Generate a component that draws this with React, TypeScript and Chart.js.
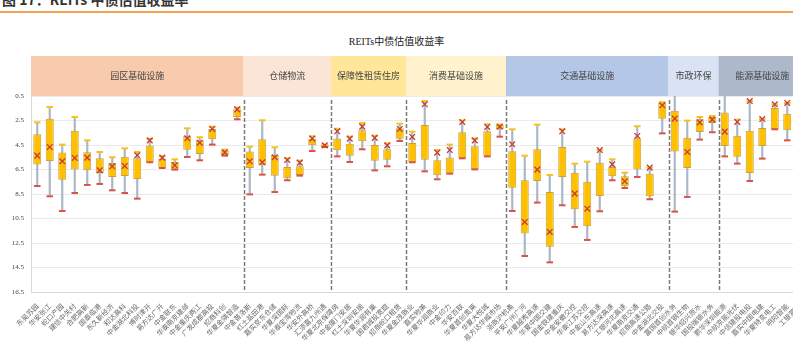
import React, { useEffect, useRef } from "react";
import { Chart, registerables } from "chart.js";

Chart.register(...registerables);

const categories = [
  "东吴苏园", "华安张江", "蛇口产园", "建信中关村", "合肥高新", "国泰临港", "东久新经济", "和达高科", "中金湖北科投",
  "博时津开", "易方达广开", "中金联东", "华泰南京建邺", "中金重庆两江", "广发成都高投", "招商科创", "华夏金隅智造",
  "中金普洛斯", "红土盐田港", "嘉实京东仓储", "华夏深国际", "华泰宝湾物流", "华安外高桥", "汇添富九州通",
  "华夏北京保障房", "中金厦门安居", "红土深圳安居", "华夏华润有巢", "国君城投宽庭", "招商蛇口租赁",
  "华夏金茂商业", "嘉实物美", "华夏华润商业", "中金印力", "华安百联", "华夏首创奥莱", "华夏大悦城", "易方达华威市场",
  "浙商沪杭甬", "平安广州广河", "华夏越秀高速", "华夏中国交建", "国金铁建重庆", "中金安徽交控", "华泰江苏交控",
  "中金山东高速", "易方达深高速", "工银河北高速", "华夏南京交通", "招商高速公路", "中金湖北交投",
  "富国首创水务", "中航首钢生物", "银华绍兴原水", "国投瑞银水务",
  "鹏华深圳能源", "中航京能光伏", "中信建投电投", "嘉实中国电建", "华夏特变电工", "明阳智能", "工银蒙能"
];

const groupNames = ["园区基础设施", "仓储物流", "保障性租赁住房", "消费基础设施", "交通基础设施", "市政环保", "能源基础设施"];
const groupSizes = [17, 7, 6, 8, 13, 4, 7];
const groupColors = ["#f8cbad", "#fbe5d6", "#ffe699", "#fff2cc", "#b4c7e7", "#dae3f3", "#adb9ca"];

// upper whisker end (smallest yield, yellow cap)
const whiskerLow = [
  2.65, 1.40, 4.47, 2.21, 4.12, 5.07, 5.50, 4.77, 5.07, 4.00, 5.43, 5.67, 3.14, 3.87, 3.00, 4.88, 1.45,
  4.63, 2.48, 4.69, 5.59, 5.78, 3.79, 4.47,
  3.17, 3.82, 2.70, 3.74, 4.37, 2.76,
  3.41, 0.91, 4.91, 4.47, 2.51, 3.98, 2.81, 2.84,
  3.22, 5.37, 2.84, 6.95, 3.22, 6.02, 5.86, 4.91, 5.67, 6.76, 2.97, 6.35, 1.00,
  0.30, 2.51, 2.21, 2.13,
  0.30, 2.43, 0.91, 2.38, 1.18, 1.07, 1.50
];
// box edge, smaller yield
const boxLow = [
  3.63, 2.35, 5.12, 3.33, 5.10, 5.59, 5.97, 5.45, 5.59, 4.55, 5.64, 5.89, 3.74, 4.12, 3.19, 4.94, 1.59,
  5.04, 4.04, 5.29, 6.30, 6.24, 3.98, 4.47,
  3.96, 4.39, 3.30, 4.50, 4.85, 3.14,
  4.34, 2.87, 5.75, 5.53, 3.46, 4.61, 3.38, 2.84,
  5.02, 7.38, 4.85, 8.33, 4.66, 6.76, 7.49, 5.94, 6.30, 7.06, 3.96, 6.84, 1.04,
  1.70, 3.90, 2.40, 2.21,
  1.84, 3.74, 3.33, 3.11, 1.48, 1.94, 2.30
];
// box edge, larger yield
const boxHigh = [
  6.10, 5.80, 7.33, 6.51, 6.57, 6.78, 7.11, 7.03, 7.27, 5.91, 6.35, 6.51, 4.88, 5.23, 4.04, 5.34, 2.21,
  6.38, 6.16, 7.00, 7.22, 6.95, 4.53, 4.66,
  4.93, 5.37, 4.20, 5.78, 5.70, 3.98,
  5.91, 5.70, 6.97, 6.84, 5.59, 6.49, 5.43, 3.22,
  7.98, 11.73, 7.44, 12.80, 7.11, 9.75, 11.14, 8.66, 7.06, 7.87, 6.49, 8.69, 2.35,
  5.04, 6.38, 3.44, 2.70,
  4.58, 5.45, 6.78, 4.58, 3.19, 3.30, 3.60
];
// lower whisker end (largest yield, red cap)
const whiskerHigh = [
  7.85, 8.69, 9.89, 8.42, 7.76, 7.68, 8.20, 8.42, 8.88, 5.91, 6.38, 6.51, 5.48, 5.75, 4.47, 5.37, 2.40,
  8.53, 6.92, 8.34, 7.38, 7.00, 4.99, 4.66,
  5.43, 5.89, 4.85, 6.57, 6.24, 4.17,
  5.91, 6.65, 7.30, 6.84, 5.59, 6.49, 5.43, 3.82,
  9.89, 13.56, 9.20, 14.08, 9.42, 11.19, 12.25, 9.91, 7.38, 8.01, 7.11, 8.93, 3.55,
  9.94, 8.74, 4.06, 3.46,
  5.43, 6.02, 7.44, 5.61, 3.22, 4.12, 4.40
];
const meanVal = [
  5.37, 4.66, 5.83, 5.56, 5.53, 6.57, 6.24, 6.21, 5.34, 4.12, 5.53, 6.16, 3.95, 4.31, 3.19, 5.10, 1.59,
  5.83, 5.91, 5.50, 5.72, 5.94, 3.98, 4.53,
  3.38, 3.98, 3.00, 3.92, 4.53, 3.19,
  3.84, 1.18, 5.12, 4.91, 2.62, 4.12, 3.03, 3.00,
  4.44, 10.78, 6.51, 11.60, 3.38, 8.47, 9.70, 4.91, 6.08, 7.46, 3.76, 6.35, 1.26,
  2.35, 5.07, 2.65, 2.43,
  3.41, 2.62, 0.91, 2.38, 1.18, 1.07, 2.00
];

const yMin = 0.5;
const yMax = 16.5;
const yStep = 2;

const groupPlugin = {
  id: "groupBands",
  beforeDatasetsDraw(chart: any) {
    const { ctx, chartArea } = chart;
    const x = chart.scales.x;
    const half = (x.getPixelForValue(1) - x.getPixelForValue(0)) / 2;
    let start = 0;
    ctx.save();
    groupSizes.forEach((n: number, g: number) => {
      const x0 = x.getPixelForValue(start) - half;
      const x1 = x.getPixelForValue(start + n - 1) + half;
      ctx.fillStyle = groupColors[g];
      ctx.fillRect(x0, chartArea.top - 40, x1 - x0, 40);
      ctx.fillStyle = "#444";
      ctx.font = "9px 'Noto Sans CJK SC'";
      ctx.textAlign = "center";
      ctx.textBaseline = "middle";
      ctx.fillText(groupNames[g], (x0 + x1) / 2, chartArea.top - 20);
      if (g > 0) {
        ctx.beginPath();
        ctx.setLineDash([4, 2]);
        ctx.strokeStyle = "#7a7a7a";
        ctx.lineWidth = 1.5;
        ctx.moveTo(Math.round(x0) + 0.5, chartArea.top + 4);
        ctx.lineTo(Math.round(x0) + 0.5, chartArea.bottom);
        ctx.stroke();
        ctx.setLineDash([]);
      }
      start += n;
    });
    ctx.restore();
  },
};

export default function App() {
  const ref = useRef<HTMLCanvasElement | null>(null);

  useEffect(() => {
    if (!ref.current) return;
    const chart = new Chart(ref.current, {
      type: "bar",
      data: {
        labels: categories,
        datasets: [
          {
            type: "line",
            label: "mean",
            data: meanVal,
            showLine: false,
            pointStyle: "crossRot",
            pointRadius: 4,
            pointBorderWidth: 1.3,
            borderColor: "#c63a3a",
            backgroundColor: "#c63a3a",
            order: 0,
          } as any,
          {
            type: "line",
            label: "capLow",
            data: whiskerLow,
            showLine: false,
            pointStyle: "line",
            pointRadius: 3.3,
            pointBorderWidth: 2,
            borderColor: "#f7c31a",
            backgroundColor: "#f7c31a",
            order: 1,
          } as any,
          {
            type: "line",
            label: "capHigh",
            data: whiskerHigh,
            showLine: false,
            pointStyle: "line",
            pointRadius: 3.3,
            pointBorderWidth: 2,
            borderColor: "#d9534a",
            backgroundColor: "#d9534a",
            order: 1,
          } as any,
          {
            type: "bar",
            label: "box",
            data: boxLow.map((v, i) => [v, boxHigh[i]]),
            backgroundColor: "#ffc000",
            borderColor: "#c9a03a",
            borderWidth: 1,
            borderSkipped: false,
            grouped: false,
            categoryPercentage: 1,
            barPercentage: 0.64,
            order: 2,
          } as any,
          {
            type: "bar",
            label: "whisker",
            data: whiskerLow.map((v, i) => [v, whiskerHigh[i]]),
            backgroundColor: "#a9b7c6",
            borderWidth: 0,
            grouped: false,
            barThickness: 1.5,
            order: 3,
          } as any,
        ],
      },
      options: {
        animation: false,
        responsive: false,
        devicePixelRatio: 1,
        layout: { padding: { top: 96, left: 0, right: 4, bottom: 0 } },
        plugins: {
          legend: { display: false },
          tooltip: { enabled: false },
          title: { display: false },
        },
        scales: {
          x: {
            type: "category",
            offset: true,
            grid: { display: false },
            border: { display: true, color: "#d9d9d9" },
            ticks: {
              autoSkip: false,
              maxRotation: 45,
              minRotation: 45,
              padding: 2,
              color: "#6a6a6a",
              font: { size: 7, family: "'Noto Sans CJK SC'" },
            },
            afterFit: (s: any) => {
              s.height = 62;
            },
          },
          y: {
            type: "linear",
            reverse: true,
            min: yMin,
            max: yMax,
            grid: { color: "#ebebeb", drawTicks: false },
            border: { display: true, color: "#d9d9d9" },
            ticks: {
              stepSize: yStep,
              padding: 7,
              color: "#444",
              font: { size: 7, family: "'Liberation Serif'" },
              callback: (v: any) => Number(v).toFixed(1),
            },
            afterFit: (s: any) => {
              s.width = 31;
            },
          },
        },
      },
      plugins: [groupPlugin],
    });
    return () => chart.destroy();
  }, []);

  return (
    <div
      style={{
        position: "fixed",
        left: 0,
        top: 0,
        width: 793,
        height: 354,
        overflow: "hidden",
        background: "#fff",
      }}
    >
      <div
        style={{
          position: "absolute",
          left: 2,
          top: -9,
          fontSize: 14,
          lineHeight: "16px",
          fontWeight: "bold",
          color: "#333",
          fontFamily: "'Noto Sans CJK SC', sans-serif",
          whiteSpace: "nowrap",
        }}
      >
        图 17：REITs 中债估值收益率
      </div>
      <div
        style={{
          position: "absolute",
          left: 0,
          top: 11,
          width: 793,
          height: 2,
          background: "#f3a352",
        }}
      />
      <div
        style={{
          position: "absolute",
          left: 0,
          top: 33,
          width: 793,
          textAlign: "center",
          fontSize: 10,
          color: "#222",
          fontFamily: "'Liberation Serif', 'Noto Sans CJK SC', serif",
          whiteSpace: "nowrap",
        }}
      >
        REITs中债估值收益率
      </div>
      <canvas
        ref={ref}
        width={812}
        height={354}
        style={{ position: "absolute", left: 0, top: 0, width: 812, height: 354 }}
      />
    </div>
  );
}
